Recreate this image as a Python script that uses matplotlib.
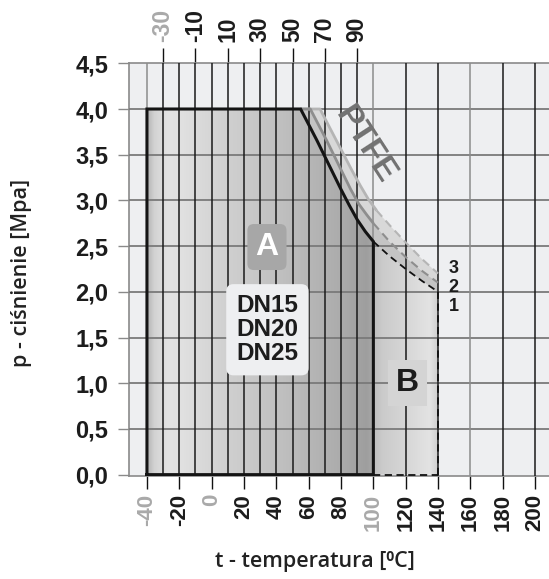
import numpy as np
import matplotlib
matplotlib.use("Agg")
import matplotlib.pyplot as plt
from matplotlib.patches import Polygon
from matplotlib.colors import LinearSegmentedColormap

# ---- data -------------------------------------------------------------
# bottom temperature scale [°C]
t_ticks_bottom = [-40, -20, 0, 20, 40, 60, 80, 100, 120, 140, 160, 180, 200]
t_labels_bottom = ["-40", "-20", "0", "20", "40", "60", "80", "100",
                   "120", "140", "160", "180", "200"]
grey_bottom = ["-40", "0", "100"]
# top temperature scale [°C]
t_ticks_top = [-30, -10, 10, 30, 50, 70, 90]
t_labels_top = ["-30", "-10", "10", "30", "50", "70", "90"]
grey_top = ["-30"]
# pressure scale [MPa]
p_ticks = [0.0, 0.5, 1.0, 1.5, 2.0, 2.5, 3.0, 3.5, 4.0, 4.5]
p_labels = ["0,0", "0,5", "1,0", "1,5", "2,0", "2,5", "3,0", "3,5", "4,0", "4,5"]

# working range A (DN15-DN25)
a_t_min, a_t_max = -40, 100
a_p_max = 4.0

# limit curve 1 (solid up to 100 °C, dashed above)
c1_t = [55, 60, 65, 70, 75, 80, 85, 90, 95, 100, 110, 120, 130, 140]
c1_p = [4.0, 3.83, 3.66, 3.48, 3.30, 3.12, 2.95, 2.79, 2.66, 2.55, 2.39, 2.25, 2.12, 2.0]
c1_split = 100
# limit curve 2
c2_t = [55, 61, 66, 71, 76, 81, 86, 91, 96, 100, 110, 120, 130, 140]
c2_p = [4.0, 4.0, 3.83, 3.66, 3.48, 3.30, 3.12, 2.96, 2.84, 2.75, 2.55, 2.38, 2.23, 2.10]
c2_split = 100
# limit curve 3
c3_t = [55, 67, 72, 77, 82, 87, 92, 97, 102, 110, 120, 130, 140]
c3_p = [4.0, 4.0, 3.83, 3.66, 3.49, 3.32, 3.16, 3.01, 2.89, 2.73, 2.54, 2.36, 2.20]
c3_split = 102

# extended range B
b_t_max = 140

# ---- figure -----------------------------------------------------------
BG = "#eeeff1"
GRID_H = "#7a7a7a"
GRID_V = "#1a1a1a"
GRID_V_LIGHT = "#8c8c8c"
TXT = "#1c1c1c"
TXT_GREY = "#a9a9a9"

plt.rcParams["font.family"] = ["Liberation Sans", "DejaVu Sans"]

fig = plt.figure(figsize=(5.49, 5.79), dpi=100)
fig.patch.set_facecolor("white")
ax = fig.add_axes([129 / 549, 1 - 476 / 579, 1 - 129 / 549, (476 - 63.3) / 579])
ax.set_facecolor(BG)
xlim = (-51.1, 208.6)
ylim = (-0.015, 4.5)

# region A polygon: left edge, top, curve 1 down to 100 °C, bottom
c1_solid = [(t, p) for t, p in zip(c1_t, c1_p) if t <= c1_split]
a_poly = [(a_t_min, 0), (a_t_min, a_p_max)] + c1_solid + [(a_t_max, 0)]
# region B polygon: under dashed part of curve 1
c1_dash = [(t, p) for t, p in zip(c1_t, c1_p) if t >= c1_split]
b_poly = [(c1_split, 0)] + c1_dash + [(b_t_max, 0)]

# gradient fills
a_cmap = LinearSegmentedColormap.from_list(
    "a_grad",
    [(0.0, "#b4b4b4"), (0.03, "#d2d2d2"), (0.09, "#e3e3e3"), (0.16, "#e0e0e0"),
     (0.35, "#d0d0d0"), (0.6, "#bfbfbf"), (0.85, "#acacac"), (0.97, "#9e9e9e"),
     (1.0, "#a8a8a8")])
b_cmap = LinearSegmentedColormap.from_list(
    "b_grad",
    [(0.0, "#bdbdbd"), (0.15, "#cbcbcb"), (0.55, "#d8d8d8"), (0.88, "#e3e3e3"),
     (1.0, "#cfcfcf")])
grad = np.linspace(0, 1, 256)[None, :]

a_patch = Polygon(a_poly, closed=True, facecolor="none", edgecolor="none")
ax.add_patch(a_patch)
im_a = ax.imshow(grad, cmap=a_cmap, extent=[a_t_min, a_t_max, 0, a_p_max],
                 aspect="auto", interpolation="bilinear", zorder=1)
im_a.set_clip_path(a_patch)

b_patch = Polygon(b_poly, closed=True, facecolor="none", edgecolor="none")
ax.add_patch(b_patch)
im_b = ax.imshow(grad, cmap=b_cmap, extent=[c1_split, b_t_max, 0, max(c1_p)],
                 aspect="auto", interpolation="bilinear", zorder=1)
im_b.set_clip_path(b_patch)

# PTFE band between the curves
band12 = list(zip(c1_t, c1_p)) + list(zip(c2_t, c2_p))[::-1]
band23 = list(zip(c2_t, c2_p)) + list(zip(c3_t, c3_p))[::-1]
ax.add_patch(Polygon(band12, closed=True, facecolor="#c4c4c4",
                     edgecolor="none", zorder=1.5))
ax.add_patch(Polygon(band23, closed=True, facecolor="#d8d8d8",
                     edgecolor="none", zorder=1.5))

# grid
for p in p_ticks[1:-1]:
    ax.axhline(p, color=GRID_H, lw=1.3, zorder=3)
v_lines = list(range(-40, 101, 10)) + [120, 140, 160, 180, 200]
for t in v_lines:
    col = GRID_V_LIGHT if t in (-40, 100, 160) else GRID_V
    ax.axvline(t, color=col, lw=1.1, zorder=3)

# limit curves
def split_curve(ts, ps, s):
    solid = [(t, p) for t, p in zip(ts, ps) if t <= s]
    dash = [(t, p) for t, p in zip(ts, ps) if t >= s]
    return np.array(solid), np.array(dash)

for ts, ps, s, col, z in [(c3_t, c3_p, c3_split, "#b5b5b5", 4),
                          (c2_t, c2_p, c2_split, "#8e8e8e", 4.1)]:
    solid, dash = split_curve(ts, ps, s)
    ax.plot(solid[:, 0], solid[:, 1], color=col, lw=2.0, zorder=z,
            solid_capstyle="butt")
    ax.plot(dash[:, 0], dash[:, 1], color=col, lw=1.5, zorder=z,
            dashes=(4, 2.5))

solid1, dash1 = split_curve(c1_t, c1_p, c1_split)
ax.plot(dash1[:, 0], dash1[:, 1], color="#111111", lw=1.3, zorder=4.2,
        dashes=(4, 2.5))
ax.plot([b_t_max, b_t_max], [0, c1_p[-1]], color="#111111", lw=1.3,
        zorder=4.2, dashes=(4, 2.5))
ax.plot([c1_split, b_t_max], [0, 0], color="#111111", lw=1.3, zorder=4.2,
        dashes=(4, 2.5))

# region A outline
a_outline = np.array(a_poly + [a_poly[0]])
ax.plot(a_outline[:, 0], a_outline[:, 1], color="#141414", lw=2.2,
        zorder=5, solid_joinstyle="miter")

# labels inside the chart
ax.text(34.2, 2.49, "A", color="white", fontsize=23, fontweight="bold",
        ha="center", va="center", zorder=6,
        bbox=dict(boxstyle="round,pad=0.25,rounding_size=0.2",
                  facecolor="#a7a7a7", edgecolor="none"))
ax.text(34.5, 1.585, "DN15\nDN20\nDN25", color=TXT, fontsize=17.5,
        fontweight="bold", ha="center", va="center", linespacing=1.05,
        zorder=6,
        bbox=dict(boxstyle="round,pad=0.42,rounding_size=0.3",
                  facecolor=BG, edgecolor="none"))
ax.text(121.3, 1.0, "B", color=TXT, fontsize=23, fontweight="bold",
        ha="center", va="center", zorder=6,
        bbox=dict(boxstyle="square,pad=0.25", facecolor="#d4d4d4",
                  edgecolor="none"))
ax.text(95, 3.6, "PTFE", color="#727272", fontsize=24, fontweight="bold",
        ha="center", va="center", rotation=-57, rotation_mode="anchor",
        zorder=6)
for lab, p in [("3", 2.26), ("2", 2.05), ("1", 1.84)]:
    ax.text(146.5, p, lab, color=TXT, fontsize=13, fontweight="bold",
            ha="left", va="center", zorder=6)

ax.set_xlim(*xlim)
ax.set_ylim(*ylim)

# axes frame
for side in ("left", "top", "bottom"):
    ax.spines[side].set_color("#8a8a8a")
    ax.spines[side].set_linewidth(1.2)
ax.spines["right"].set_visible(False)

# y ticks
ax.set_yticks(p_ticks)
ax.set_yticklabels(p_labels)
ax.tick_params(axis="y", length=8, width=1.0, color="#8a8a8a", pad=7,
               labelsize=17, labelcolor=TXT)
for lbl in ax.get_yticklabels():
    lbl.set_fontweight("bold")

# bottom x ticks
ax.set_xticks(t_ticks_bottom)
ax.set_xticklabels(t_labels_bottom, rotation=90)
ax.tick_params(axis="x", length=9, width=1.0, color="#111111", pad=4,
               labelsize=16)
for lbl, tk in zip(ax.get_xticklabels(), ax.xaxis.get_major_ticks()):
    lbl.set_fontweight("bold")
    if lbl.get_text() in grey_bottom:
        lbl.set_color(TXT_GREY)
        tk.tick1line.set_color("#9a9a9a")
    else:
        lbl.set_color(TXT)
for tk, t in zip(ax.xaxis.get_major_ticks(), t_ticks_bottom):
    if t == 160:
        tk.tick1line.set_color("#8c8c8c")

# top x ticks
top = ax.secondary_xaxis("top")
top.set_xticks(t_ticks_top)
top.set_xticklabels(t_labels_top, rotation=90)
top.tick_params(axis="x", length=11, width=1.0, color="#111111", pad=4,
                labelsize=16.5)
top.spines["top"].set_visible(False)
for lbl in top.get_xticklabels():
    lbl.set_fontweight("bold")
    lbl.set_color(TXT_GREY if lbl.get_text() in grey_top else TXT)

# axis titles
fig.text(315 / 549, 1 - 561 / 579, "t - temperatura [⁰C]", fontsize=15.5,
         fontweight="semibold", color="#222222", ha="center", va="center",
         family=["Open Sans", "DejaVu Sans"])
fig.text(22 / 549, 1 - 273 / 579, "p - ciśnienie [Mpa]", fontsize=15.5,
         fontweight="semibold", color="#222222", ha="center", va="center",
         rotation=90, family=["Open Sans", "DejaVu Sans"])

fig.savefig("out.png", dpi=100, facecolor="white")
